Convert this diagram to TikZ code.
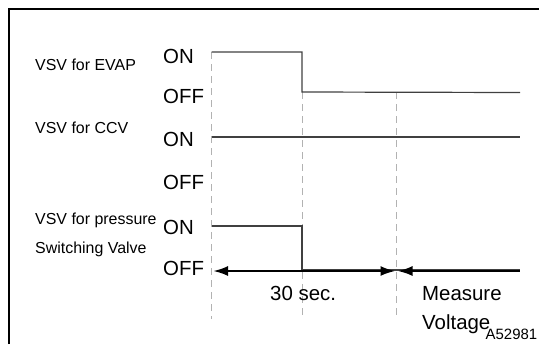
\documentclass[tikz,border=0pt]{standalone}
\usepackage{fontspec}
\setmainfont{Liberation Sans}
\usetikzlibrary{arrows.meta}
\tikzset{
  lbl/.style={anchor=base west, inner sep=0pt, font=\fontsize{16}{19}\selectfont},
  lvl/.style={anchor=base west, inner sep=0pt, font=\fontsize{20.5}{24}\selectfont},
  tag/.style={anchor=base west, inner sep=0pt, font=\fontsize{15}{18}\selectfont},
  sig/.style={draw=black!75, line width=1.2bp},
  guide/.style={draw=black!30, line width=1bp, dash pattern=on 7bp off 5bp},
  span/.style={draw=black, line width=2.4bp},
  tip/.tip={Latex[length=15bp,width=10bp]},
}
\begin{document}
\begin{tikzpicture}[x=1bp, y=-1bp]
  \useasboundingbox (0,0) rectangle (539,344);
  % frame
  \draw[line width=2bp] (9,344) -- (9,9) -- (539,9);

  % signal names
  \node[lbl] (evap) at (35,70) {VSV for EVAP};
  \node[lbl] (ccv) at (35,133) {VSV for CCV};
  \node[lbl] (psv) at (35,224) {VSV for pressure};
  \node[lbl] (psv2) at (35,253) {Switching Valve};

  % levels
  \node[lvl] (evapon) at (163,63) {ON};
  \node[lvl] (evapoff) at (163,103) {OFF};
  \node[lvl] (ccvon) at (163,146) {ON};
  \node[lvl] (ccvoff) at (163,189) {OFF};
  \node[lvl] (psvon) at (163,234) {ON};
  \node[lvl] (psvoff) at (163,275) {OFF};

  % time marks
  \coordinate (t0) at (211.5,52);
  \coordinate (t0b) at (211.5,319);
  \coordinate (t1) at (302,92);
  \coordinate (t1b) at (302,319);
  \coordinate (t2) at (396,92);
  \coordinate (t2b) at (396,319);
  \draw[guide] (t0) -- (t0b);
  \draw[guide] (t1) -- (t1b);
  \draw[guide] (t2) -- (t2b);

  % waveforms
  \coordinate (ea) at (211.5,52);
  \coordinate (eb) at (520,92.5);
  \draw[sig] (ea) -| (t1) -- (eb);
  \coordinate (ca) at (211.5,137);
  \coordinate (cb) at (520,137);
  \draw[sig] (ca) -- (cb);
  \coordinate (pa) at (211.5,226);
  \coordinate (pb) at (302,270);
  \coordinate (pc) at (520,270);
  \draw[sig] (pa) -| (pb) -- (pc);

  % spans
  \coordinate (s0) at (213,271);
  \coordinate (s1) at (395.5,271);
  \coordinate (s2) at (397.5,271);
  \coordinate (s3) at (520,271);
  \draw[span, {tip}-{tip}] (s0) -- (s1);
  \draw[span, {tip}-] (s2) -- (s3);
  \node[lvl] (sec) at (270,300) {30 sec.};
  \node[lvl] (meas) at (422,300) {Measure};
  \node[lvl] (volt) at (422,329) {Voltage};
  \node[tag] (fig) at (485.5,339) {A52981};
\end{tikzpicture}
\end{document}
